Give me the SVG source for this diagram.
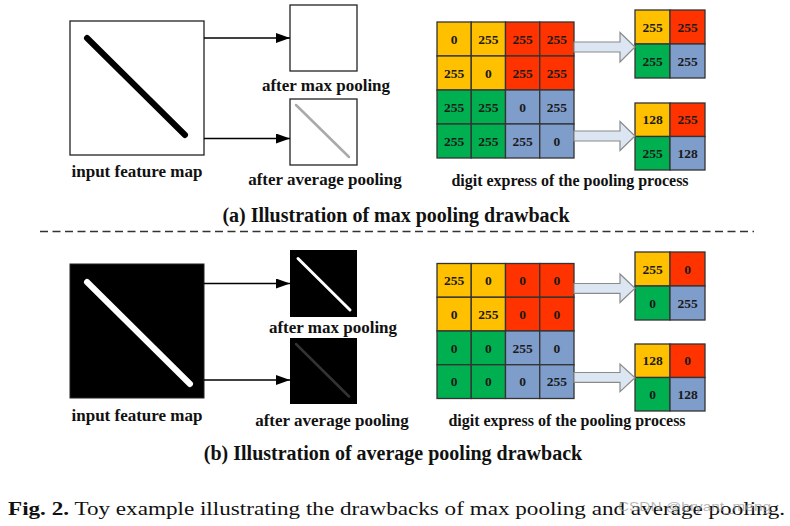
<svg xmlns="http://www.w3.org/2000/svg" width="790" height="526" viewBox="0 0 790 526">
<style>
.lbl{font-family:"Liberation Serif","Times New Roman",serif;font-weight:bold;font-size:17px;fill:#111;text-anchor:middle}
.cap{font-family:"Liberation Serif","Times New Roman",serif;font-weight:bold;font-size:20px;fill:#111;text-anchor:middle}
.num{font-family:"Liberation Serif","Times New Roman",serif;font-weight:bold;font-size:13.5px;fill:#1a1a1a;text-anchor:middle}
.y{fill:#FFC000;stroke:#333;stroke-width:1.3}
.r{fill:#FF3300;stroke:#333;stroke-width:1.3}
.g{fill:#00B050;stroke:#333;stroke-width:1.3}
.b{fill:#7F9DCB;stroke:#333;stroke-width:1.3}
.blk{fill:#DCE6F2;stroke:#8a8a8a;stroke-width:1.2}
.conn{stroke:#000;stroke-width:1.3;fill:none}
</style>
<defs>
<marker id="ah" viewBox="0 0 14 10" refX="14" refY="5" markerWidth="14" markerHeight="10" markerUnits="userSpaceOnUse" orient="auto">
<path d="M0,0 L14,5 L0,10 Z" fill="#000"/>
</marker>
</defs>
<rect width="790" height="526" fill="#fff"/>

<!-- ===== Part (a) ===== -->
<g id="a-input">
<rect x="70" y="21" width="134" height="134" fill="#fff" stroke="#222" stroke-width="1.3"/>
<line x1="87" y1="38" x2="185" y2="135" stroke="#000" stroke-width="6" stroke-linecap="round"/>
<text class="lbl" x="137" y="177">input feature map</text>
</g>
<g id="a-max">
<rect x="290" y="5" width="67" height="66" fill="#fff" stroke="#222" stroke-width="1.3"/>
<text class="lbl" x="326" y="91">after max pooling</text>
</g>
<g id="a-avg">
<rect x="290" y="99" width="67" height="66" fill="#fff" stroke="#222" stroke-width="1.3"/>
<line x1="296" y1="105" x2="349" y2="157" stroke="#aaa" stroke-width="2.5" stroke-linecap="round"/>
<text class="lbl" x="325" y="185">after average pooling</text>
</g>

<g id="a-grid">
<rect class="y" x="437" y="22" width="34.25" height="34"/><rect class="y" x="471.25" y="22" width="34.25" height="34"/>
<rect class="r" x="505.5" y="22" width="34.25" height="34"/><rect class="r" x="539.75" y="22" width="34.25" height="34"/>
<rect class="y" x="437" y="56" width="34.25" height="34"/><rect class="y" x="471.25" y="56" width="34.25" height="34"/>
<rect class="r" x="505.5" y="56" width="34.25" height="34"/><rect class="r" x="539.75" y="56" width="34.25" height="34"/>
<rect class="g" x="437" y="90" width="34.25" height="34"/><rect class="g" x="471.25" y="90" width="34.25" height="34"/>
<rect class="b" x="505.5" y="90" width="34.25" height="34"/><rect class="b" x="539.75" y="90" width="34.25" height="34"/>
<rect class="g" x="437" y="124" width="34.25" height="34"/><rect class="g" x="471.25" y="124" width="34.25" height="34"/>
<rect class="b" x="505.5" y="124" width="34.25" height="34"/><rect class="b" x="539.75" y="124" width="34.25" height="34"/>
<text class="num" x="454" y="43.5">0</text><text class="num" x="488.4" y="43.5">255</text><text class="num" x="522.6" y="43.5">255</text><text class="num" x="556.9" y="43.5">255</text>
<text class="num" x="454" y="77.5">255</text><text class="num" x="488.4" y="77.5">0</text><text class="num" x="522.6" y="77.5">255</text><text class="num" x="556.9" y="77.5">255</text>
<text class="num" x="454" y="111.5">255</text><text class="num" x="488.4" y="111.5">255</text><text class="num" x="522.6" y="111.5">0</text><text class="num" x="556.9" y="111.5">255</text>
<text class="num" x="454" y="145.5">255</text><text class="num" x="488.4" y="145.5">255</text><text class="num" x="522.6" y="145.5">255</text><text class="num" x="556.9" y="145.5">0</text>
<text class="lbl" x="570" y="186" style="font-size:16px">digit express of the pooling process</text>
</g>
<g id="a-grid-max">
<rect class="y" x="635" y="10" width="35" height="34"/><rect class="r" x="670" y="10" width="35" height="34"/>
<rect class="g" x="635" y="44" width="35" height="34"/><rect class="b" x="670" y="44" width="35" height="34"/>
<text class="num" x="652.5" y="31.5">255</text><text class="num" x="687.5" y="31.5">255</text>
<text class="num" x="652.5" y="65.5">255</text><text class="num" x="687.5" y="65.5">255</text>
</g>
<g id="a-grid-avg">
<rect class="y" x="635" y="103" width="35" height="33.5"/><rect class="r" x="670" y="103" width="35" height="33.5"/>
<rect class="g" x="635" y="136.5" width="35" height="33.5"/><rect class="b" x="670" y="136.5" width="35" height="33.5"/>
<text class="num" x="652.5" y="124.3">128</text><text class="num" x="687.5" y="124.3">255</text>
<text class="num" x="652.5" y="157.8">255</text><text class="num" x="687.5" y="157.8">128</text>
</g>

<!-- ===== Part (b) ===== -->
<g id="b-input">
<rect x="70" y="264" width="134" height="134" fill="#000" stroke="#222" stroke-width="1"/>
<line x1="87" y1="282" x2="190" y2="384" stroke="#fff" stroke-width="6" stroke-linecap="round"/>
<text class="lbl" x="137" y="421">input feature map</text>
</g>
<g id="b-max">
<rect x="290" y="250" width="67" height="67" fill="#000"/>
<line x1="298" y1="258.5" x2="350" y2="310" stroke="#fff" stroke-width="3" stroke-linecap="round"/>
<text class="lbl" x="333" y="333">after max pooling</text>
</g>
<g id="b-avg">
<rect x="290" y="338" width="67" height="66" fill="#000"/>
<line x1="296" y1="344" x2="349" y2="396.5" stroke="#333" stroke-width="2.5" stroke-linecap="round"/>
<text class="lbl" x="332" y="426">after average pooling</text>
</g>

<g id="b-grid">
<rect class="y" x="437" y="263.5" width="34.25" height="33.75"/><rect class="y" x="471.25" y="263.5" width="34.25" height="33.75"/>
<rect class="r" x="505.5" y="263.5" width="34.25" height="33.75"/><rect class="r" x="539.75" y="263.5" width="34.25" height="33.75"/>
<rect class="y" x="437" y="297.25" width="34.25" height="33.75"/><rect class="y" x="471.25" y="297.25" width="34.25" height="33.75"/>
<rect class="r" x="505.5" y="297.25" width="34.25" height="33.75"/><rect class="r" x="539.75" y="297.25" width="34.25" height="33.75"/>
<rect class="g" x="437" y="331" width="34.25" height="33.75"/><rect class="g" x="471.25" y="331" width="34.25" height="33.75"/>
<rect class="b" x="505.5" y="331" width="34.25" height="33.75"/><rect class="b" x="539.75" y="331" width="34.25" height="33.75"/>
<rect class="g" x="437" y="364.75" width="34.25" height="33.75"/><rect class="g" x="471.25" y="364.75" width="34.25" height="33.75"/>
<rect class="b" x="505.5" y="364.75" width="34.25" height="33.75"/><rect class="b" x="539.75" y="364.75" width="34.25" height="33.75"/>
<text class="num" x="454" y="285">255</text><text class="num" x="488.4" y="285">0</text><text class="num" x="522.6" y="285">0</text><text class="num" x="556.9" y="285">0</text>
<text class="num" x="454" y="318.7">0</text><text class="num" x="488.4" y="318.7">255</text><text class="num" x="522.6" y="318.7">0</text><text class="num" x="556.9" y="318.7">0</text>
<text class="num" x="454" y="352.5">0</text><text class="num" x="488.4" y="352.5">0</text><text class="num" x="522.6" y="352.5">255</text><text class="num" x="556.9" y="352.5">0</text>
<text class="num" x="454" y="386.2">0</text><text class="num" x="488.4" y="386.2">0</text><text class="num" x="522.6" y="386.2">0</text><text class="num" x="556.9" y="386.2">255</text>
<text class="lbl" x="567" y="426" style="font-size:16px">digit express of the pooling process</text>
</g>
<g id="b-grid-max">
<rect class="y" x="635" y="252" width="35" height="34"/><rect class="r" x="670" y="252" width="35" height="34"/>
<rect class="g" x="635" y="286" width="35" height="34"/><rect class="b" x="670" y="286" width="35" height="34"/>
<text class="num" x="652.5" y="273.5">255</text><text class="num" x="687.5" y="273.5">0</text>
<text class="num" x="652.5" y="307.5">0</text><text class="num" x="687.5" y="307.5">255</text>
</g>
<g id="b-grid-avg">
<rect class="y" x="635" y="344" width="35" height="33.5"/><rect class="r" x="670" y="344" width="35" height="33.5"/>
<rect class="g" x="635" y="377.5" width="35" height="33.5"/><rect class="b" x="670" y="377.5" width="35" height="33.5"/>
<text class="num" x="652.5" y="365.3">128</text><text class="num" x="687.5" y="365.3">0</text>
<text class="num" x="652.5" y="398.8">0</text><text class="num" x="687.5" y="398.8">128</text>
</g>

<!-- ===== Connectors ===== -->
<g id="connectors">
<line class="conn" x1="204" y1="38" x2="290" y2="38" marker-end="url(#ah)"/>
<line class="conn" x1="204" y1="138.5" x2="290" y2="138.5" marker-end="url(#ah)"/>
<line class="conn" x1="204" y1="283.5" x2="290" y2="283.5" marker-end="url(#ah)"/>
<line class="conn" x1="204" y1="380" x2="290" y2="380" marker-end="url(#ah)"/>
<path class="blk" d="M574,42 L620,42 L620,32.5 L635,47 L620,62 L620,52 L574,52 Z"/>
<path class="blk" d="M574,131 L620,131 L620,121.5 L635,136 L620,150.5 L620,141 L574,141 Z"/>
<path class="blk" d="M574,283.5 L620,283.5 L620,274 L635,288.3 L620,302.5 L620,293.3 L574,293.3 Z"/>
<path class="blk" d="M574,372.5 L620,372.5 L620,364 L635,377.8 L620,391.7 L620,382.3 L574,382.3 Z"/>
</g>

<!-- ===== Captions ===== -->
<text class="cap" x="396" y="221.5">(a) Illustration of max pooling drawback</text>
<line x1="40" y1="231.5" x2="754" y2="231.5" stroke="#333" stroke-width="1.3" stroke-dasharray="8,4.5"/>
<text class="cap" x="393" y="460">(b) Illustration of average pooling drawback</text>
<text x="8" y="515" font-family="'Liberation Serif','Times New Roman',serif" font-size="19.5" fill="#111" textLength="777" lengthAdjust="spacingAndGlyphs"><tspan font-weight="bold">Fig. 2.</tspan> Toy example illustrating the drawbacks of max pooling and average pooling.</text>
<text x="618" y="511" font-family="'Liberation Sans',Arial,sans-serif" font-size="13.5" fill="#999" fill-opacity="0.7" textLength="153" lengthAdjust="spacingAndGlyphs">CSDN @bryant_meng</text>
</svg>
